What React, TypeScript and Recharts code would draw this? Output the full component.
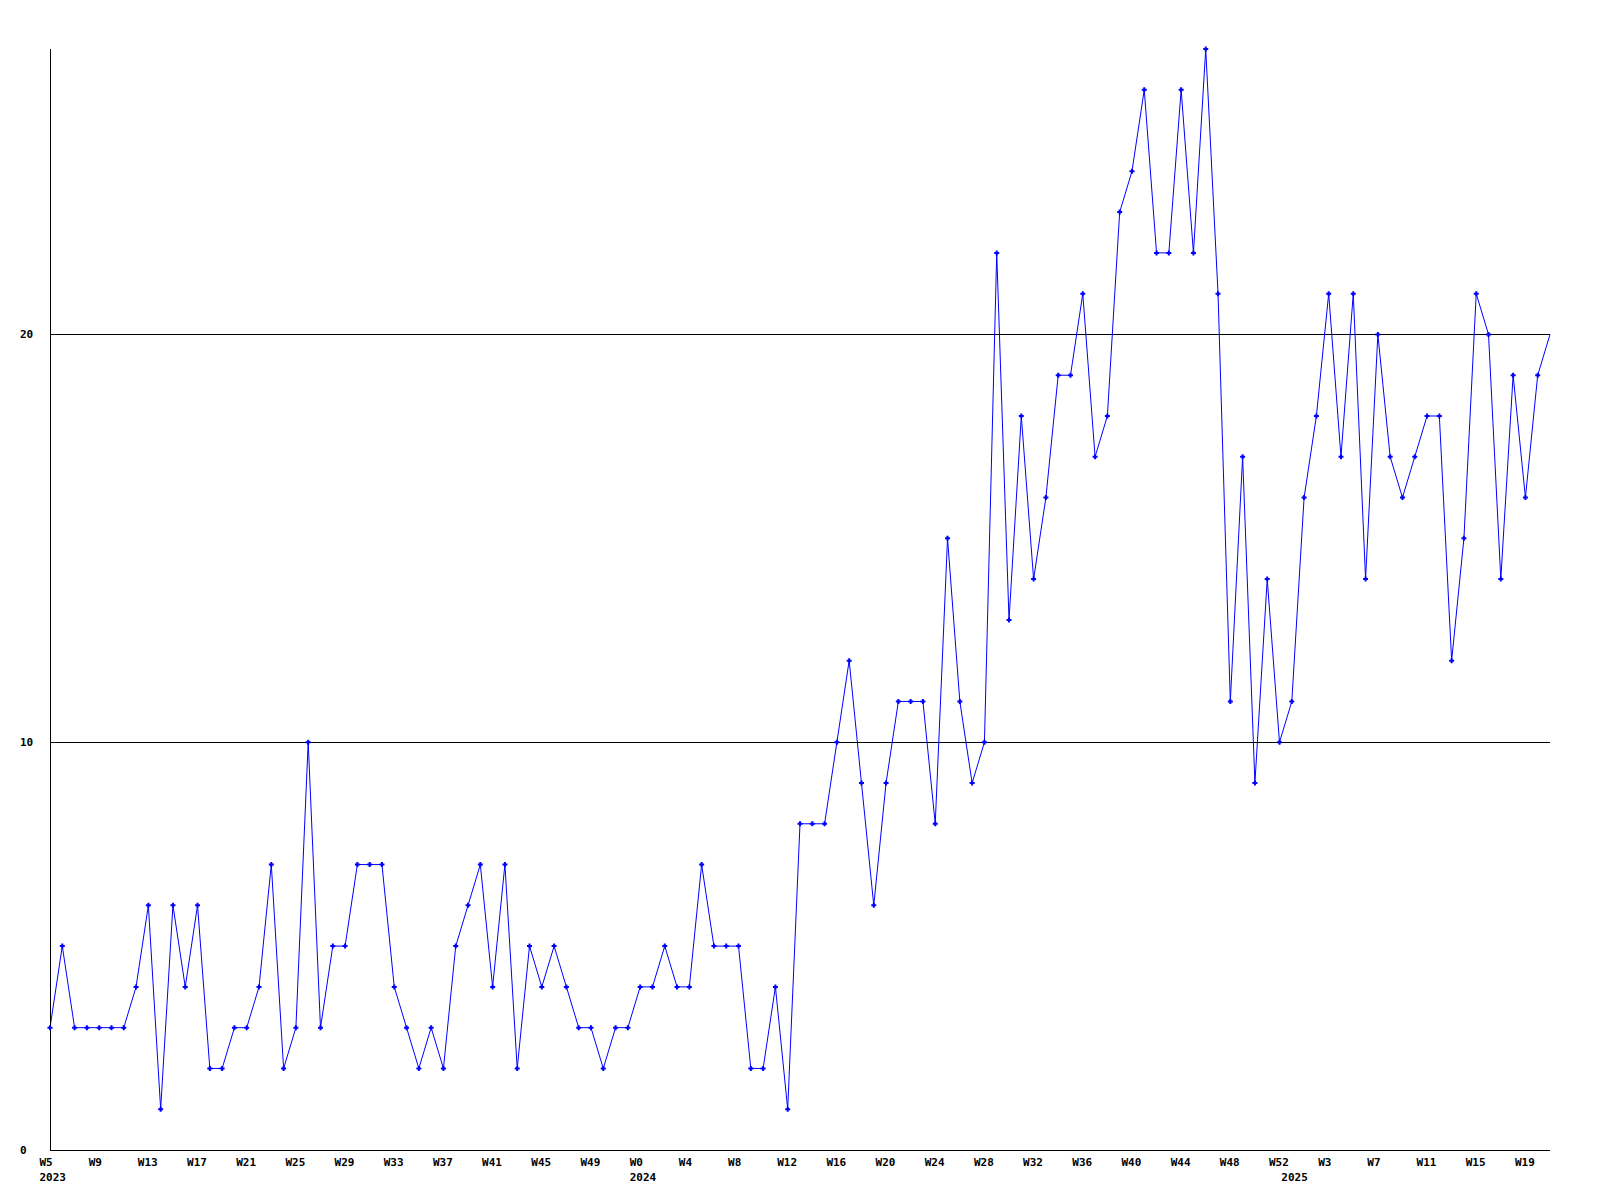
import { Line, LineChart, ReferenceLine, XAxis, YAxis } from "recharts";

// week numbers per year, as labelled on the x axis
const WEEKS_2023 = [
  5, 6, 7, 8, 9, 10, 11, 12, 13, 14, 15, 16, 17, 18, 19, 20, 21, 22, 23, 24,
  25, 26, 27, 28, 29, 30, 31, 32, 33, 34, 35, 36, 37, 38, 39, 40, 41, 42, 43,
  44, 45, 46, 47, 48, 49, 50, 51, 52,
];
const WEEKS_2024 = [
  0, 1, 2, 3, 4, 5, 6, 7, 8, 9, 10, 11, 12, 13, 14, 15, 16, 17, 18, 19, 20,
  21, 22, 23, 24, 25, 26, 27, 28, 29, 30, 31, 32, 33, 34, 35, 36, 37, 38, 39,
  40, 41, 42, 43, 44, 45, 46, 47, 48, 49, 50, 51, 52,
];
const WEEKS_2025 = [
  0, 1, 2, 3, 4, 5, 6, 7, 8, 9, 10, 11, 12, 13, 14, 15, 16, 17, 18, 19, 20, 21,
];

// weekly counts
const VALUES = [
  3, 5, 3, 3, 3, 3, 3, 4, 6, 1,
  6, 4, 6, 2, 2, 3, 3, 4, 7, 2,
  3, 10, 3, 5, 5, 7, 7, 7, 4, 3,
  2, 3, 2, 5, 6, 7, 4, 7, 2, 5,
  4, 5, 4, 3, 3, 2, 3, 3, 4, 4,
  5, 4, 4, 7, 5, 5, 5, 2, 2, 4,
  1, 8, 8, 8, 10, 12, 9, 6, 9, 11,
  11, 11, 8, 15, 11, 9, 10, 22, 13, 18,
  14, 16, 19, 19, 21, 17, 18, 23, 24, 26,
  22, 22, 26, 22, 27, 21, 11, 17, 9, 14,
  10, 11, 16, 18, 21, 17, 21, 14, 20, 17,
  16, 17, 18, 18, 12, 15, 21, 20, 14, 19,
  16, 19, 20,
];

const Y_TICKS = [0, 10, 20];
const GRID_LINES = [10, 20];

const FONT = "'DejaVu Sans Mono', monospace";

const weeks = [
  ...WEEKS_2023.map((w) => ({ year: 2023, week: w })),
  ...WEEKS_2024.map((w) => ({ year: 2024, week: w })),
  ...WEEKS_2025.map((w) => ({ year: 2025, week: w })),
];

const data = weeks.map((w, i) => ({
  key: `${w.year}-W${w.week}`,
  week: `W${w.week}`,
  year: w.year,
  value: VALUES[i],
}));

const firstOfYear = (i: number) => i === 0 || data[i - 1].year !== data[i].year;

const XTick = (props: any) => {
  const { x, y, index } = props;
  const showWeek = index % 4 === 0;
  const showYear = firstOfYear(index);
  if (!showWeek && !showYear) return null;
  const item = data[index];
  return (
    <g>
      {showWeek && (
        <text
          x={x - 10.5}
          y={y + 8}
          fontFamily={FONT}
          fontWeight="bold"
          fontSize={11}
          fill="#000"
          textAnchor="start"
        >
          {item.week}
        </text>
      )}
      {showYear && (
        <text
          x={x - 10.5}
          y={y + 23}
          fontFamily={FONT}
          fontWeight="bold"
          fontSize={11}
          fill="#000"
          textAnchor="start"
        >
          {item.year}
        </text>
      )}
    </g>
  );
};

const YTick = (props: any) => {
  const { y, payload } = props;
  return (
    <text
      x={20}
      y={y + 4}
      fontFamily={FONT}
      fontWeight="bold"
      fontSize={11}
      fill="#000"
      textAnchor="start"
    >
      {payload.value}
    </text>
  );
};

// small "+" marker, skipped on the last point like the original
const Cross = (props: any) => {
  const { cx, cy, index } = props;
  if (index === data.length - 1 || cx == null) return <g key={index} />;
  return (
    <path
      key={index}
      d={`M${cx - 2.5},${cy}H${cx + 2.5}M${cx},${cy - 2.5}V${cy + 2.5}`}
      stroke="#0000ff"
      strokeWidth={2}
      fill="none"
    />
  );
};

export default function App() {
  return (
    <div style={{ position: "absolute", left: 0, top: 0, background: "#fff" }}>
      <LineChart
        width={1600}
        height={1200}
        data={data}
        margin={{ top: 49, right: 50, bottom: 0, left: 0 }}
      >
        <XAxis
          dataKey="key"
          interval={0}
          height={50}
          axisLine={{ stroke: "#000", strokeWidth: 1, shapeRendering: "crispEdges" }}
          tickLine={false}
          tick={<XTick />}
        />
        <YAxis
          type="number"
          domain={[0, 27]}
          ticks={Y_TICKS}
          width={50}
          axisLine={{ stroke: "#000", strokeWidth: 1, shapeRendering: "crispEdges" }}
          tickLine={false}
          tick={<YTick />}
        />
        {GRID_LINES.map((v) => (
          <ReferenceLine
            key={v}
            y={v}
            stroke="#000"
            strokeWidth={1}
            shapeRendering="crispEdges"
          />
        ))}
        <Line
          type="linear"
          dataKey="value"
          stroke="#0000ff"
          strokeWidth={1}
          dot={<Cross />}
          activeDot={false}
          isAnimationActive={false}
        />
      </LineChart>
    </div>
  );
}
